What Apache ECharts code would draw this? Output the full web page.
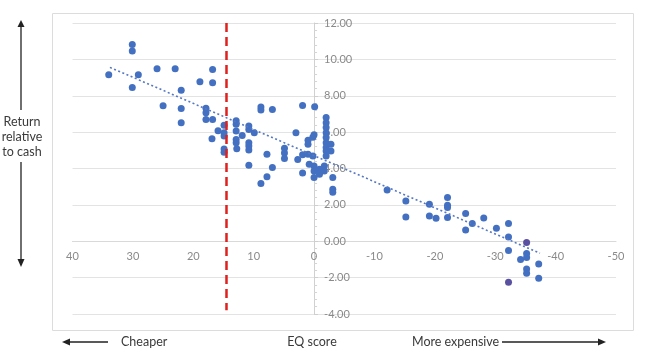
<!DOCTYPE html>
<html>
<head>
<meta charset="utf-8">
<script src="https://cdn.jsdelivr.net/npm/echarts@6/dist/echarts.min.js"></script>
<style>
html,body{margin:0;padding:0;background:#fff;}
#chart{width:645px;height:357px;}
</style>
</head>
<body>
<div id="chart"></div>
<script>
// EQ score (x) and return relative to cash (y)
const eqScore = [34.0,30.1,30.1,29.1,30.1,26.0,23.0,16.8,18.9,16.8,22.0,25.0,22.0,22.0,17.9,17.9,17.9,16.8,16.9,15.9,
  14.9,14.9,14.9,14.9,14.9,12.9,12.9,12.9,12.9,12.9,12.8,11.9,10.8,10.8,9.9,10.8,10.8,10.8,10.8,8.8,
  8.8,6.9,7.8,6.9,7.8,8.8,4.9,4.9,4.9,3.0,1.9,-0.1,2.7,1.9,1.9,1.0,1.0,0.2,0.0,1.0,
  0.2,0.8,0.0,0.0,-0.9,-1.7,-1.7,-0.9,0.0,-2.0,-2.0,-2.0,-2.0,-2.0,-2.0,-2.0,-2.0,-2.8,-2.8,-2.0,
  -3.1,-3.1,-3.1,-12.1,-15.2,-15.2,-19.1,-19.1,-20.2,-22.1,-22.1,-22.1,-22.1,-25.1,-25.1,-26.2,-28.1,-30.2,-32.2,-32.2,
  -32.2,-34.2,-35.2,-35.2,-35.2,-35.2,-37.2,-37.2];
const returnVsCash = [9.15,10.82,10.46,9.15,8.45,9.49,9.49,9.45,8.77,8.72,8.30,7.45,7.30,6.52,7.31,7.07,6.70,6.70,5.64,6.08,
  6.38,5.97,5.79,5.07,4.89,6.62,6.43,6.06,5.60,5.42,5.09,5.82,6.34,6.15,5.97,5.42,5.24,5.02,4.18,7.38,
  7.22,7.25,4.78,4.05,3.55,3.18,5.12,4.85,4.55,5.97,7.47,7.40,4.50,4.75,3.75,5.55,5.33,5.72,5.85,4.78,
  4.69,4.23,4.14,3.86,3.96,4.14,3.86,3.68,3.50,6.80,6.52,6.25,5.97,5.70,5.42,5.15,4.96,5.33,4.96,4.69,
  3.50,2.86,2.70,2.82,2.21,1.34,2.03,1.39,1.26,2.40,1.98,1.85,1.30,1.52,0.62,0.97,1.28,0.71,0.97,0.24,
  -0.51,-1.00,-0.68,-0.90,-1.52,-1.76,-1.25,-2.04];
// two points drawn in a darker (purple) tint
const darkScore = [-32.2, -35.2];
const darkReturn = [-2.25, -0.07];
// dotted trend line end points
const trendScore = [33.8, -37.4];
const trendReturn = [9.56, -0.66];
// red dashed cut-off
const cutoffScore = [14.5, 14.5];
const cutoffReturn = [12, -3.8];

const xTicks = {min: -50, max: 40, interval: 10};
const yTicks = {min: -4, max: 12, interval: 2};

const zip = (a, b) => a.map((v, i) => [v, b[i]]);

const W = 645, H = 357;
const grid = {left: 72.5, right: 29, top: 23, bottom: 43};
const gw = W - grid.left - grid.right, gh = H - grid.top - grid.bottom;
// pixel of value 0 on each axis (x axis is inverted: max at left)
const x0px = grid.left + (xTicks.max - 0) / (xTicks.max - xTicks.min) * gw;
const y0px = grid.top + (yTicks.max - 0) / (yTicks.max - yTicks.min) * gh;

const chart = echarts.init(document.getElementById('chart'));
const txt = '#3a3a3a';
const font = 'Lato, "Open Sans", sans-serif';
chart.setOption({
  animation: false,
  grid: Object.assign({containLabel: false}, grid),
  xAxis: {
    type: 'value', inverse: true, min: xTicks.min, max: xTicks.max, interval: xTicks.interval,
    position: 'bottom', offset: -((H - grid.bottom) - y0px),
    splitLine: {show: false},
    axisLine: {onZero: false, lineStyle: {color: '#d9d9d9'}},
    axisTick: {show: false},
    axisLabel: {color: '#8a8a8a', fontSize: 11, margin: 10, fontFamily: font}
  },
  yAxis: {
    type: 'value', position: 'right', offset: -((W - grid.right) - x0px),
    min: yTicks.min, max: yTicks.max, interval: yTicks.interval,
    splitLine: {show: true, lineStyle: {color: '#e3e3e3'}},
    axisLine: {onZero: false, lineStyle: {color: '#d0d0d0'}},
    axisTick: {show: true, length: 4, lineStyle: {color: '#cfcfcf'}},
    minorTick: {show: true, splitNumber: 5, length: 3, lineStyle: {color: '#d5d5d5'}},
    axisLabel: {color: '#8a8a8a', fontSize: 11, margin: 10, fontFamily: font,
      formatter: v => v.toFixed(2)}
  },
  series: [
    {
      type: 'scatter', data: zip(eqScore, returnVsCash), symbolSize: 7,
      itemStyle: {color: '#4470c2', opacity: 1}, z: 3
    },
    {
      type: 'scatter', data: zip(darkScore, darkReturn), symbolSize: 7,
      itemStyle: {color: '#5a52a0', opacity: 1}, z: 3
    },
    {
      type: 'line', data: zip(trendScore, trendReturn), symbol: 'none',
      lineStyle: {color: '#5577c4', width: 1.6, type: [2, 2.5]}, z: 4
    },
    {
      type: 'line', data: zip(cutoffScore, cutoffReturn), symbol: 'none',
      lineStyle: {color: '#e0201c', width: 2.5, type: [9, 5]}, z: 5
    }
  ],
  graphic: [
    {type: 'rect', silent: true, z: -10, shape: {x: 52.5, y: 13.5, width: 581, height: 317},
      style: {fill: 'none', stroke: '#dcdcdc', lineWidth: 1}},
    // left vertical arrows
    {type: 'line', silent: true, shape: {x1: 21, y1: 26, x2: 21, y2: 110}, style: {stroke: '#222', lineWidth: 1.3}},
    {type: 'polygon', silent: true, shape: {points: [[21, 20], [17.5, 27], [24.5, 27]]}, style: {fill: '#222'}},
    {type: 'line', silent: true, shape: {x1: 21, y1: 162, x2: 21, y2: 260}, style: {stroke: '#222', lineWidth: 1.3}},
    {type: 'polygon', silent: true, shape: {points: [[21, 267], [17.5, 259], [24.5, 259]]}, style: {fill: '#222'}},
    {type: 'text', silent: true, x: 22, y: 137,
      style: {text: 'Return\nrelative\nto cash', align: 'center', verticalAlign: 'middle',
        font: '12.5px ' + font, lineHeight: 15, fill: txt}},
    // bottom arrows and labels
    {type: 'line', silent: true, shape: {x1: 68, y1: 342, x2: 108, y2: 342}, style: {stroke: '#222', lineWidth: 1.3}},
    {type: 'polygon', silent: true, shape: {points: [[62, 342], [70, 338.5], [70, 345.5]]}, style: {fill: '#222'}},
    {type: 'text', silent: true, x: 121, y: 342,
      style: {text: 'Cheaper', align: 'left', verticalAlign: 'middle', font: '12.5px ' + font, fill: txt}},
    {type: 'text', silent: true, x: 312, y: 342,
      style: {text: 'EQ score', align: 'center', verticalAlign: 'middle', font: '12.5px ' + font, fill: txt}},
    {type: 'text', silent: true, x: 412, y: 342,
      style: {text: 'More expensive', align: 'left', verticalAlign: 'middle', font: '12.5px ' + font, fill: txt}},
    {type: 'line', silent: true, shape: {x1: 502, y1: 342, x2: 599, y2: 342}, style: {stroke: '#222', lineWidth: 1.3}},
    {type: 'polygon', silent: true, shape: {points: [[606, 342], [598, 338.5], [598, 345.5]]}, style: {fill: '#222'}}
  ]
});
</script>
</body>
</html>
